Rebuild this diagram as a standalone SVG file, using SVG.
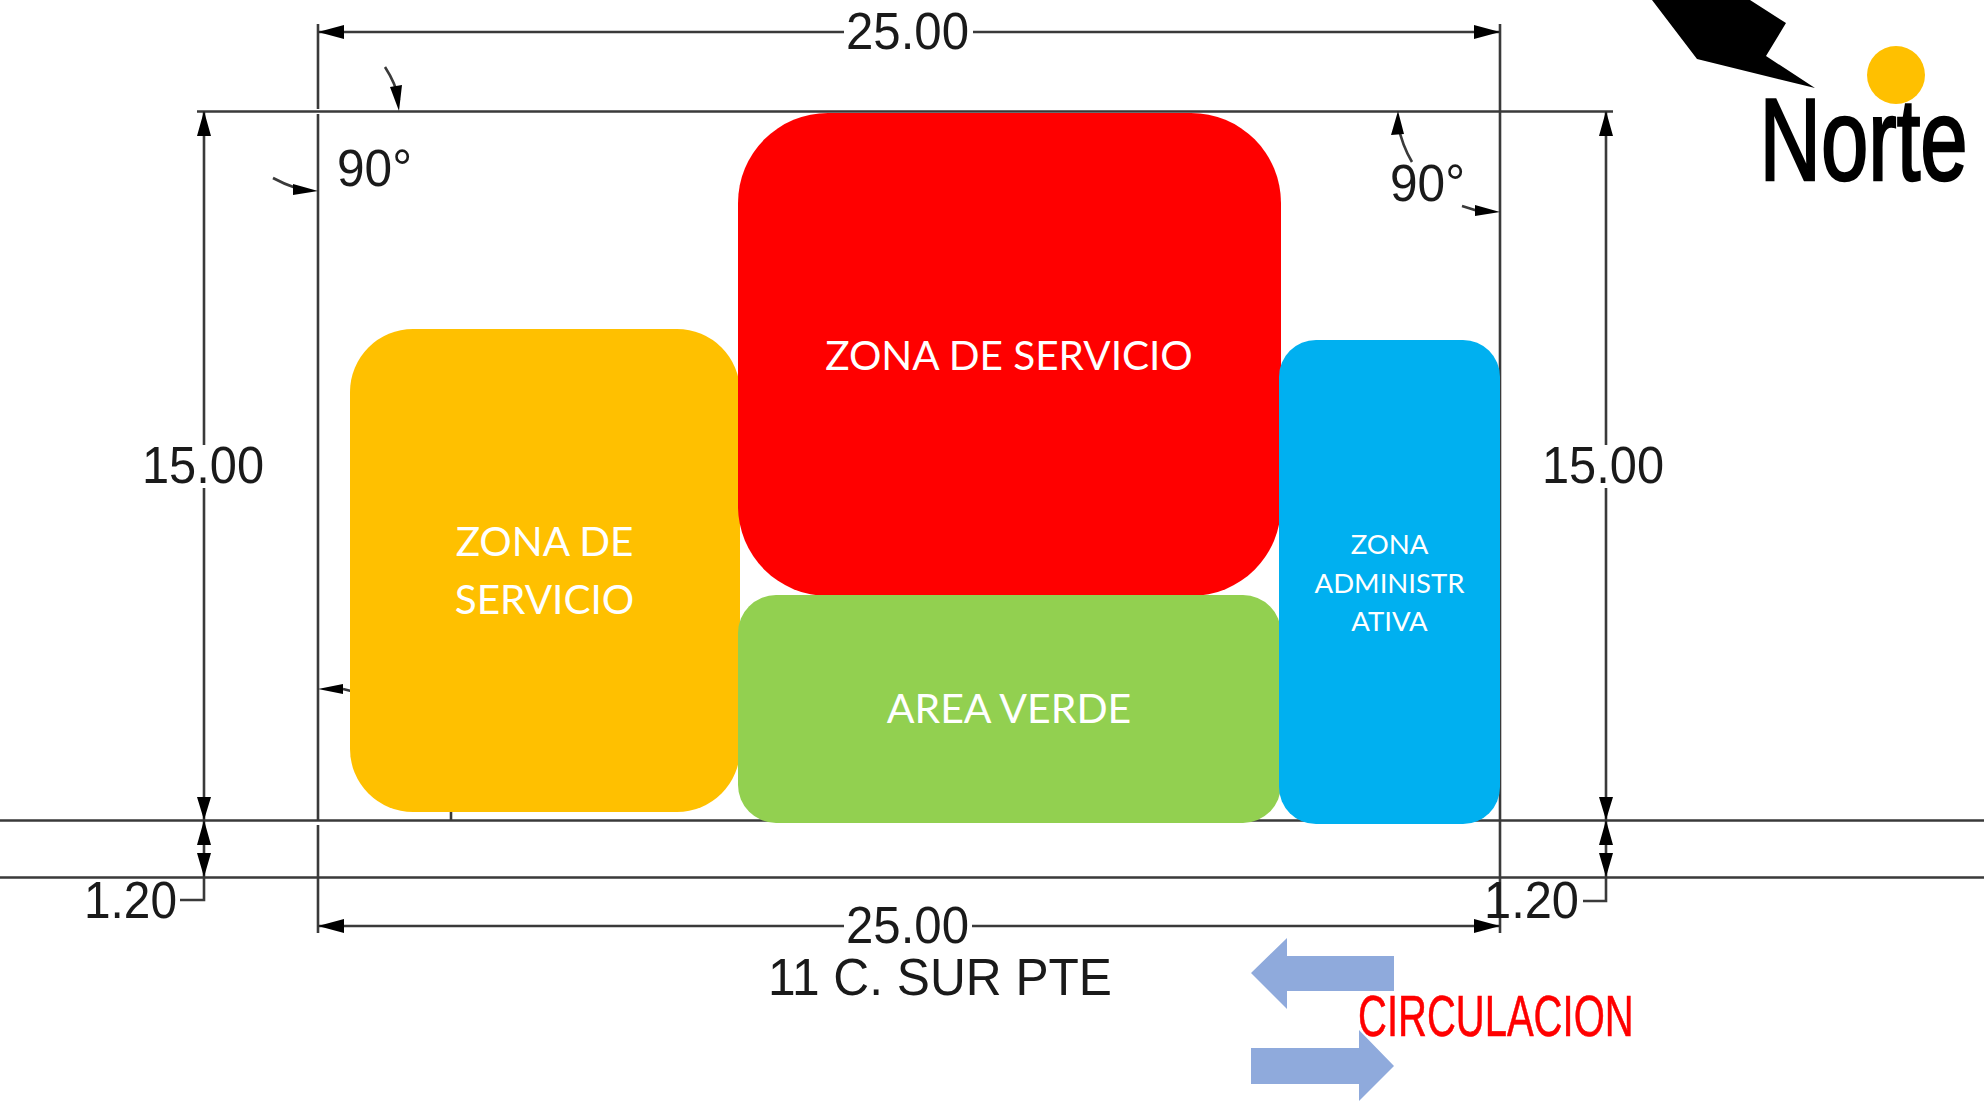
<svg xmlns="http://www.w3.org/2000/svg" width="1984" height="1101" viewBox="0 0 1984 1101">
<style>
.l{fill:none;stroke:#3a3a3a;stroke-width:2.6}
.h{fill:#000;stroke:none}
.d{font-family:"Liberation Sans",Arial,sans-serif;font-size:51px;fill:#1a1a1a}
.z{font-family:Lato,"Open Sans",sans-serif;fill:#fff;text-anchor:middle}
.c{fill:#8faadc}
</style>
<rect width="1984" height="1101" fill="#fff"/>
<g id="connectors">
<path class="l" d="M0 820.500H1984M0 877.500H1984M197 111.500H1613M318 24V109M318 114V820M318 825V933M1500 24V933M204 111V445M204 488V820M204 820V900H180M1606 111V445M1606 488V820M1606 820V901H1583M318 32H844M973 32H1500M318 926H844M972 926H1500M451 812V820M343 689L351 691"/>
<path class="l" d="M385 67Q396 84 399 100M273 178Q284 184 296 188M1398 125Q1402 145 1412 162M1462 206L1478 211"/>
<path class="h" d="M318 32L344 25V39ZM1500 32L1474 25V39ZM318 926L344 919V933ZM1500 926L1474 919V933ZM204 111L197 136H211ZM204 820L197 797H211ZM204 820L197 845H211ZM204 877L197 853H211ZM1606 111L1599 136H1613ZM1606 820L1599 797H1613ZM1606 820L1599 845H1613ZM1606 877L1599 853H1613ZM399 111L390 87L402 85ZM318 191L293 184L293 195ZM1398 111L1391 135L1404 134ZM1500 212L1475 205L1475 216ZM318 689L343 684L343 694Z"/>
</g>
<g id="labels-dim">
<text class="d" x="846" y="49" textLength="123" lengthAdjust="spacingAndGlyphs">25.00</text>
<text class="d" x="846" y="943" textLength="123" lengthAdjust="spacingAndGlyphs">25.00</text>
<text class="d" x="142" y="483" textLength="122" lengthAdjust="spacingAndGlyphs">15.00</text>
<text class="d" x="1542" y="483" textLength="122" lengthAdjust="spacingAndGlyphs">15.00</text>
<text class="d" x="84" y="918" textLength="93" lengthAdjust="spacingAndGlyphs">1.20</text>
<text class="d" x="1484" y="918" textLength="95" lengthAdjust="spacingAndGlyphs">1.20</text>
<text class="d" x="337" y="186" textLength="75" lengthAdjust="spacingAndGlyphs">90°</text>
<text class="d" x="1390" y="201" textLength="75" lengthAdjust="spacingAndGlyphs">90°</text>
<text class="d" x="768" y="995" textLength="344" lengthAdjust="spacingAndGlyphs">11 C. SUR PTE</text>
</g>
<g id="zona-servicio-naranja"><rect x="350" y="329" width="390" height="483" rx="63" fill="#ffc000"/>
<text class="z" font-size="40.500" x="544.500" y="556">ZONA DE</text><text class="z" font-size="40.500" x="544.500" y="614">SERVICIO</text></g>
<g id="zona-servicio-roja"><rect x="738" y="113" width="543" height="483" rx="90" fill="#f00"/>
<text class="z" font-size="40.500" x="1009" y="370">ZONA DE SERVICIO</text></g>
<g id="area-verde"><rect x="738" y="595" width="543" height="228" rx="38" fill="#92d050"/>
<text class="z" font-size="41" x="1009" y="723">AREA VERDE</text></g>
<g id="zona-administrativa"><rect x="1279" y="340" width="221" height="484" rx="37" fill="#00b0f0"/>
<text class="z" font-size="27.500" x="1389.500" y="554">ZONA</text><text class="z" font-size="27.500" x="1389.500" y="593">ADMINISTR</text><text class="z" font-size="27.500" x="1389.500" y="631">ATIVA</text></g>
<g id="norte">
<path d="M1652 0L1697 59L1815 88L1766 56L1786 23L1750 0Z" fill="#000"/>
<circle cx="1896" cy="75" r="29" fill="#ffc000"/>
<text transform="translate(1759.500 180) scale(.734 1)" font-family="'Liberation Sans',Arial,sans-serif" font-size="116" stroke="#000" stroke-width="2.500" fill="#000">Norte</text>
</g>
<g id="circulacion">
<path class="c" d="M1251 973L1287 938V956H1394V991H1287V1009Z"/>
<path class="c" d="M1394 1066L1359 1030V1048H1251V1084H1359V1101Z"/>
<text transform="translate(1358 1036) scale(.69 1)" font-family="'Liberation Sans',Arial,sans-serif" font-size="58" stroke="#f00" stroke-width=".6" fill="#f00">CIRCULACION</text>
</g>
</svg>
